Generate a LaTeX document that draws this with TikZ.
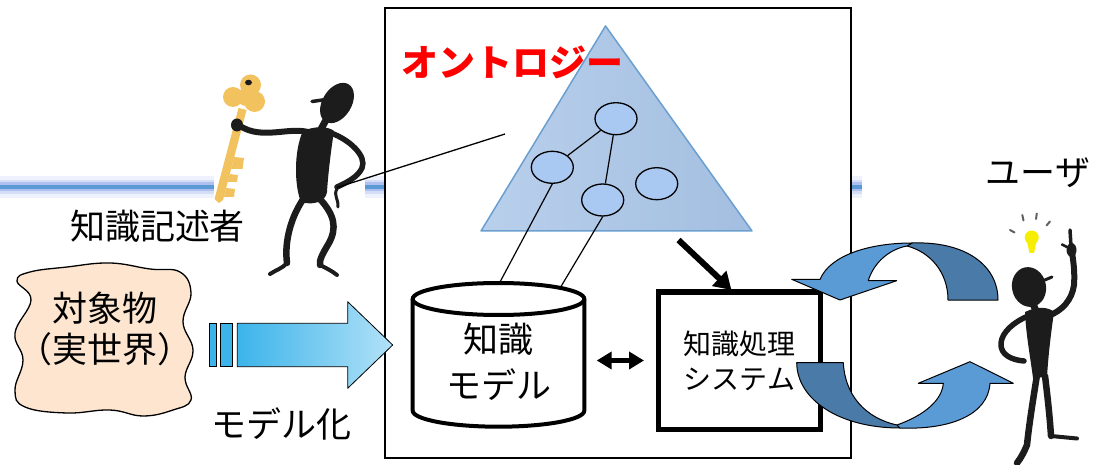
\documentclass[tikz,border=0pt]{standalone}
\usepackage{fontspec}
\newfontfamily\jpfont{Noto Sans CJK JP}
\usetikzlibrary{arrows.meta,shapes.geometric}
\definecolor{conceptfill}{HTML}{A9C8F2}
\definecolor{ontoL}{HTML}{B9D0EC}
\definecolor{ontoR}{HTML}{A3BEE0}
\definecolor{ontoEdge}{HTML}{6A9FD0}
\definecolor{cycLight}{HTML}{5B9BD5}
\definecolor{cycDark}{HTML}{4A7AA8}
\definecolor{worldFill}{HTML}{FDE5D0}
\definecolor{flowL}{HTML}{3CB4EA}
\definecolor{flowR}{HTML}{B2E1F7}
\definecolor{keyGold}{HTML}{F2C25E}
\definecolor{ink}{HTML}{1C1C1C}
\definecolor{bulb}{HTML}{F5EE00}
\definecolor{ruleA}{HTML}{EEF2FC}
\definecolor{ruleB}{HTML}{D5DEF7}
\definecolor{ruleC}{HTML}{AFC0F0}
\definecolor{ruleD}{HTML}{5B9BD5}

\begin{document}
\begin{tikzpicture}[x=1pt,y=-1pt,
  txt/.style={inner sep=0pt,align=center,font=\jpfont\fontsize{35pt}{41pt}\selectfont},
  concept/.style={ellipse,draw=black,line width=1.3pt,fill=conceptfill,
    minimum width=42pt,minimum height=32pt,inner sep=0pt},
  link/.style={draw=black,line width=1.2pt},
  limb/.style={draw=ink,line cap=round,line join=round},
  cycedge/.style={draw=black,line width=1pt,line join=round},
]
\useasboundingbox (0,0) rectangle (1106,465);

% soft horizontal rule in the background
\foreach \a/\b in {0/214,365/385,851/862}{
  \draw[ruleA,line width=22pt] (\a,187) -- (\b,187);
  \draw[ruleB,line width=14pt] (\a,187) -- (\b,187);
  \draw[ruleC,line width=9pt] (\a,187) -- (\b,187);
  \draw[ruleD,line width=4pt] (\a,187) -- (\b,187);
}

% system frame
\draw[line width=1.3pt] (385,8) rectangle (851,458);

% ontology triangle with its concepts
\path[left color=ontoL,right color=ontoR,draw=ontoEdge,line width=1.5pt,line join=round]
  (605.5,26) -- (752,231) -- (481,231) -- cycle;
\node[inner sep=0pt,text=red,font=\jpfont\bfseries\fontsize{37pt}{40pt}\selectfont]
  (title) at (512.5,62) {オントロジー};
\node[concept] (c1) at (616,118.7) {};
\node[concept] (c2) at (552.3,167.3) {};
\node[concept] (c3) at (602.7,200) {};
\node[concept] (c4) at (656.7,183.7) {};
\draw[link] (c1) -- (c2);
\draw[link] (c1) -- (c3);

% knowledge model (cylinder)
\draw[line width=4pt,fill=white] (412.7,299) -- (412.7,410.7)
  arc[start angle=180,end angle=0,x radius=85.8,y radius=16] -- (584.3,299);
\draw[line width=4pt,fill=white] (498.5,299) ellipse[x radius=85.8,y radius=16];
\node[txt,font=\jpfont\fontsize{35pt}{46pt}\selectfont] (kb) at (498.5,362) {知識\\モデル};
\coordinate (kbtopA) at (500,282);
\coordinate (kbtopB) at (561,286.5);
\draw[link] (c2.south) -- (kbtopA);
\draw[link] (c3.south) -- (kbtopB);

% knowledge processing system
\node[draw,line width=5.5pt,minimum width=162pt,minimum height=137.7pt,txt,
  font=\jpfont\fontsize{28pt}{35pt}\selectfont] (proc) at (739.5,360.6) {知識処理\\システム};

\coordinate (ontoout) at (678.5,240);
\coordinate (procin) at (731.5,290);
\draw[line width=6pt,-{Triangle[length=17pt,width=20pt]}] (ontoout) -- (procin);

\coordinate (kbR) at (596.7,360.5);
\coordinate (procL) at (644,360.5);
\draw[line width=5pt,{Triangle[length=15pt,width=17pt]}-{Triangle[length=15pt,width=17pt]}] (kbR) -- (procL);

% real world object
\draw[fill=worldFill,line width=1.3pt] plot[smooth cycle,tension=0.7] coordinates {
  (17,281) (30,272) (67,267) (110,263) (150,269) (180,272) (191,293) (183,322)
  (193,350) (185,377) (191,400) (173,410) (143,416) (110,410) (67,413) (25,407)
  (15,390) (23,360) (15,333) (31,300)};
\node[txt] (world) at (105,328.5) {対象物\\（実世界）};

% modelling arrow
\draw[fill=flowL,line width=0.8pt] (209.3,323.3) rectangle (216.7,366.7);
\draw[fill=flowL,line width=0.8pt] (220.7,323.3) rectangle (232.3,366.7);
\path[left color=flowL,right color=flowR,draw=black,line width=0.8pt,line join=round]
  (237.3,323.3) -- (347.7,323.3) -- (347.7,301.7) -- (392.7,345)
  -- (347.7,388.3) -- (347.7,366.7) -- (237.3,366.7) -- cycle;

\node[txt] (modelling) at (281,423.5) {モデル化};
\node[txt] (author) at (157.5,226) {知識記述者};
\node[txt] (user) at (1038,173) {ユーザ};

% key
\begin{scope}[fill=keyGold]
  \fill (238.5,108) -- (246.5,110) -- (223,200) -- (219,203) -- (214.5,199) -- cycle;
  \fill (234.2,157) -- (244,158) -- (242.5,169) -- (231.1,169) -- cycle;
  \fill (229.8,174) -- (238,175) -- (237,182) -- (227.7,182) -- cycle;
  \fill (226.1,188) -- (235,189) -- (234,197) -- (223.8,197) -- cycle;
  \fill (250.5,85) circle[radius=10.5];
  \fill (233,97) circle[radius=10];
  \fill (254.5,101.5) circle[radius=10.5];
  \fill (246,97) circle[radius=9];
\end{scope}
\fill[ink] (248.5,82.5) ellipse[x radius=3.5,y radius=2.8];

% knowledge author figure
\fill[ink,rotate around={-32:(337,103)}] (337,103) ellipse[x radius=14.5,y radius=22];
\draw[limb,line width=3.5pt] (312,101.5) -- (326,99.5);
\draw[limb,line width=7pt] (326,120) -- (320,131);
\fill[ink] (303,131) .. controls (314,126) and (328,126) .. (334,131)
  .. controls (331,150) and (328,175) .. (327,192)
  .. controls (326,201) and (314,206) .. (301,202)
  .. controls (294,185) and (294,150) .. (303,131) -- cycle;
\draw[limb,line width=6pt] (308,132) .. controls (288,127) and (262,140) .. (240,126);
\fill[ink] (237,125) ellipse[x radius=6,y radius=6.5];
\draw[limb,line width=5.5pt] (331,133) .. controls (350,140) and (367,156) .. (362,168)
  .. controls (358,177) and (346,183) .. (337,187);
\draw[limb,line width=3pt] (337,189) .. controls (333,195) and (339,200) .. (338,207);
\draw[limb,line width=6.5pt] (304,198) .. controls (292,215) and (284,240) .. (287,263);
\draw[limb,line width=4pt] (287,263) .. controls (283,268) and (276,270) .. (270,274);
\draw[limb,line width=6.5pt] (319,198) .. controls (335,215) and (337,228) .. (329,243)
  .. controls (323,253) and (319,260) .. (320,265);
\draw[limb,line width=4pt] (320,265) .. controls (326,268) and (332,271) .. (337,275);

\coordinate (authorhand) at (337,187.5);
\coordinate (ontopoint) at (505,134);
\draw[link,line width=1.3pt] (authorhand) -- (ontopoint);

% interaction cycle between system and user
\path[fill=cycDark,cycedge] (912,243) .. controls (965,241) and (998,265) .. (998,300)
  -- (948,300) .. controls (948,272) and (930,252) .. (907,246) -- cycle;
\path[fill=cycLight,cycedge] (912,243) .. controls (870,243) and (830,255) .. (820,279.5)
  -- (791.7,279.3) -- (840,300) -- (896.7,280.7) -- (868.3,280.5)
  .. controls (874,262) and (890,249) .. (907,246) -- cycle;
\path[fill=cycDark,cycedge] (796.7,362.7) .. controls (797,400) and (840,428) .. (900,428)
  -- (897,425) .. controls (865,418) and (845,395) .. (843.3,362.7) -- cycle;
\path[fill=cycLight,cycedge] (900,428) .. controls (950,430) and (988,415) .. (990,383.3)
  -- (1013.3,383.3) -- (970,361.7) -- (918.3,383.3) -- (943.3,383.3)
  .. controls (942,400) and (925,415) .. (897,425) -- cycle;

% user figure with an idea
\fill[bulb] (1031.7,237.5) circle[radius=7];
\fill[bulb] (1026.5,239) -- (1037,239) -- (1034,253) -- (1029.5,253) -- cycle;
\draw[ink!70,line width=2pt,line cap=round] (1010,230) -- (1014.5,232.5);
\draw[ink!70,line width=2pt,line cap=round] (1022.3,215) -- (1023.5,220.5);
\draw[ink!70,line width=2pt,line cap=round] (1036.8,213.5) -- (1036,219);
\draw[ink!70,line width=2pt,line cap=round] (1050,221.5) -- (1046.5,225.5);
\fill[ink,rotate around={12:(1029,287)}] (1029,287) ellipse[x radius=17,y radius=20];
\draw[limb,line width=3pt] (1040,282) -- (1052,277);
\draw[limb,line width=7pt] (1033,304) -- (1037,313);
\fill[ink] (1025,312) .. controls (1037,306) and (1049,307) .. (1054,312)
  .. controls (1050,340) and (1048,360) .. (1047,377) -- (1033,378)
  .. controls (1030,355) and (1026,335) .. (1025,312) -- cycle;
\draw[limb,line width=6pt] (1048,316) .. controls (1062,311) and (1072,300) .. (1074,285)
  .. controls (1075,270) and (1073,260) .. (1072,252);
\fill[ink] (1071.5,250) ellipse[x radius=5,y radius=7];
\draw[limb,line width=3.5pt] (1071,246) -- (1070,230);
\draw[limb,line width=2.5pt] (1067,247) -- (1062,244.5);
\draw[limb,line width=5.5pt] (1028,316) .. controls (1014,322) and (1002,332) .. (1001,343)
  .. controls (1000,355) and (1012,360) .. (1024,361);
\draw[limb,line width=6.5pt] (1037,375) .. controls (1033,400) and (1029,425) .. (1027,445)
  .. controls (1024,452) and (1021,458) .. (1017,463);
\draw[limb,line width=6.5pt] (1045,376) .. controls (1048,400) and (1050,420) .. (1051,436);
\draw[limb,line width=4pt] (1051,436) -- (1077,438.5);
\end{tikzpicture}
\end{document}
